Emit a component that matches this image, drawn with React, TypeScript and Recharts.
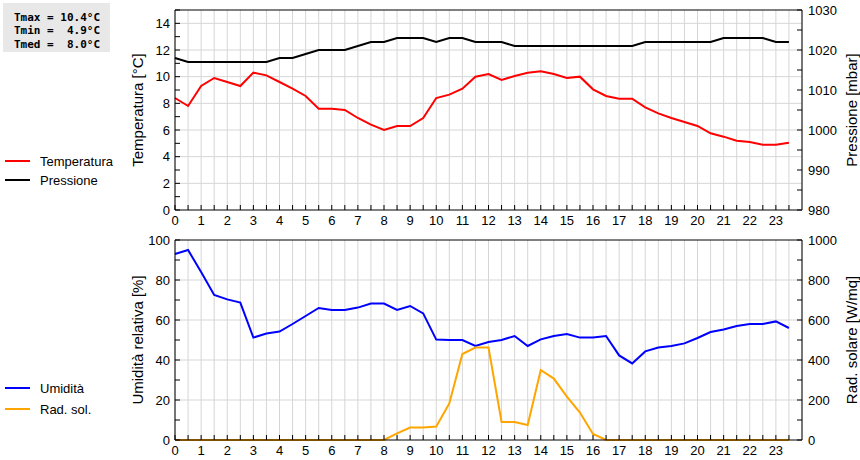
import React from 'react';
import { LineChart, Line, XAxis, YAxis, CartesianGrid, ReferenceLine } from 'recharts';

// ---- data (half-hourly readings) ----
const hours = [
  0, 0.5, 1, 1.5, 2, 2.5, 3, 3.5, 4, 4.5, 5, 5.5, 6, 6.5, 7, 7.5, 8, 8.5, 9, 9.5, 10, 10.5, 11, 11.5,
  12, 12.5, 13, 13.5, 14, 14.5, 15, 15.5, 16, 16.5, 17, 17.5, 18, 18.5, 19, 19.5, 20, 20.5, 21, 21.5, 22, 22.5, 23, 23.5,
];
const temperature = [
  8.4, 7.8, 9.3, 9.9, 9.6, 9.3, 10.3, 10.1, 9.6, 9.1, 8.55, 7.6, 7.6, 7.5, 6.9, 6.4, 6.0, 6.3, 6.3, 6.9, 8.4, 8.65, 9.1, 10.0,
  10.2, 9.75, 10.05, 10.3, 10.4, 10.2, 9.9, 10.0, 9.05, 8.55, 8.35, 8.35, 7.7, 7.25, 6.9, 6.6, 6.3, 5.75, 5.5, 5.2, 5.1, 4.9, 4.9, 5.05,
];
const pressure = [
  1018, 1017, 1017, 1017, 1017, 1017, 1017, 1017, 1018, 1018, 1019, 1020, 1020, 1020, 1021, 1022, 1022, 1023, 1023, 1023, 1022, 1023, 1023, 1022,
  1022, 1022, 1021, 1021, 1021, 1021, 1021, 1021, 1021, 1021, 1021, 1021, 1022, 1022, 1022, 1022, 1022, 1022, 1023, 1023, 1023, 1023, 1022, 1022,
];
const humidity = [
  93, 95, 84, 72.5, 70.3, 68.7, 51.2, 53.2, 54.2, 58, 62, 66, 65, 65, 66.2, 68.2, 68.2, 65, 67, 63.3, 50.2, 50, 50, 47,
  49, 50, 52, 47, 50.3, 52, 53, 51.2, 51.2, 52, 42.3, 38.3, 44.3, 46.2, 47, 48.3, 51, 54, 55.3, 57, 58, 58, 59.3, 56,
];
const radiation = [
  0, 0, 0, 0, 0, 0, 0, 0, 0, 0, 0, 0, 0, 0, 0, 0, 0, 33, 62, 62, 67, 183, 430, 462,
  462, 90, 90, 75, 350, 307, 217, 137, 30, 0, 0, 0, 0, 0, 0, 0, 0, 0, 0, 0, 0, 0, 0, 0,
];

// ---- axis ticks ----
const tempTicks = [0, 1, 2, 3, 4, 5, 6, 7, 8, 9, 10, 11, 12, 13, 14, 15];
const tempGrid = [2, 4, 6, 8, 10, 12, 14];
const pressTicks = [980, 985, 990, 995, 1000, 1005, 1010, 1015, 1020, 1025, 1030];
const humTicks = [0, 10, 20, 30, 40, 50, 60, 70, 80, 90, 100];
const humGrid = [20, 40, 60, 80];
const radTicks = [0, 100, 200, 300, 400, 500, 600, 700, 800, 900, 1000];

const stats = ['Tmax = 10.4°C', 'Tmin =  4.9°C', 'Tmed =  8.0°C'];

const rows = hours.map((h, i) => ({
  hour: h,
  temperature: temperature[i],
  pressure: pressure[i],
  humidity: humidity[i],
  radiation: radiation[i],
}));

const FONT = '"Liberation Sans", Arial, sans-serif';
const TICK_MARGIN = 5;
const TICK_LEN = 5;
const GRID = '#d6d6d6';

const makeLeftTick = (base: number, step: number) => (props: any) => {
  const { x, y, payload } = props;
  const v = payload.value;
  const axisX = x + TICK_MARGIN;
  const show = Math.abs((v - base) % step) < 1e-9;
  return (
    <g>
      <line x1={axisX} x2={axisX + TICK_LEN} y1={y} y2={y} stroke="#000" />
      {show && (
        <text x={x} y={y} dy="0.36em" textAnchor="end" fontSize={13} fontFamily={FONT} fill="#000">
          {v}
        </text>
      )}
    </g>
  );
};

const makeRightTick = (base: number, step: number) => (props: any) => {
  const { x, y, payload } = props;
  const v = payload.value;
  const axisX = x - TICK_MARGIN;
  const show = Math.abs((v - base) % step) < 1e-9;
  return (
    <g>
      <line x1={axisX} x2={axisX - TICK_LEN} y1={y} y2={y} stroke="#000" />
      {show && (
        <text x={x + 1} y={y} dy="0.36em" textAnchor="start" fontSize={13} fontFamily={FONT} fill="#000">
          {v}
        </text>
      )}
    </g>
  );
};

const BottomTick = (props: any) => {
  const { x, y, payload } = props;
  const v = payload.value;
  const axisY = y - TICK_MARGIN;
  return (
    <g>
      <line x1={x} x2={x} y1={axisY} y2={axisY - TICK_LEN} stroke="#000" />
      {Number.isInteger(v) && (
        <text x={x} y={axisY + 15} textAnchor="middle" fontSize={13} fontFamily={FONT} fill="#000">
          {v}
        </text>
      )}
    </g>
  );
};

const TempTick = makeLeftTick(0, 2);
const PressTick = makeRightTick(980, 10);
const HumTick = makeLeftTick(0, 20);
const RadTick = makeRightTick(0, 200);

const CHART_W = 860;
const CHART_H = 230;
const LEFT_W = 175;
const RIGHT_W = 58;
const X_H = 20;
const margin = { top: 10, right: 0, bottom: 0, left: 0 };

const AxisTitle = ({ text, cx, cy }: { text: string; cx: number; cy: number }) => (
  <div
    style={{
      position: 'absolute',
      left: cx,
      top: cy,
      transform: 'translate(-50%, -50%) rotate(-90deg)',
      whiteSpace: 'nowrap',
      fontFamily: FONT,
      fontSize: 15,
      color: '#000',
      lineHeight: 1,
    }}
  >
    {text}
  </div>
);

const LegendItem = ({ label, color, y }: { label: string; color: string; y: number }) => (
  <div style={{ position: 'absolute', left: 5, top: y - 8, height: 16, display: 'flex', alignItems: 'center' }}>
    <div style={{ width: 25, height: 2, background: color }} />
    <span style={{ marginLeft: 10, fontFamily: FONT, fontSize: 13, color: '#000', whiteSpace: 'nowrap' }}>{label}</span>
  </div>
);

const xAxisEl = (
  <XAxis
    dataKey="hour"
    type="number"
    domain={[0, 24]}
    ticks={hours}
    interval={0}
    height={X_H}
    tickSize={0}
    tickMargin={TICK_MARGIN}
    tickLine={false}
    axisLine={{ stroke: '#000' }}
    tick={BottomTick}
  />
);

export default function App() {
  return (
    <div style={{ position: 'absolute', left: 0, top: 0, width: CHART_W, height: 460, background: '#fff' }}>
      <div style={{ position: 'absolute', left: 0, top: 0 }}>
        <LineChart width={CHART_W} height={CHART_H} data={rows} margin={margin}>
          <CartesianGrid yAxisId="temp" stroke={GRID} horizontalValues={tempGrid} />
          {xAxisEl}
          <YAxis
            yAxisId="temp"
            orientation="left"
            domain={[0, 15]}
            ticks={tempTicks}
            interval={0}
            width={LEFT_W}
            tickSize={0}
            tickMargin={TICK_MARGIN}
            tickLine={false}
            axisLine={{ stroke: '#000' }}
            tick={TempTick}
          />
          <YAxis
            yAxisId="press"
            orientation="right"
            domain={[980, 1030]}
            ticks={pressTicks}
            interval={0}
            width={RIGHT_W}
            tickSize={0}
            tickMargin={TICK_MARGIN}
            tickLine={false}
            axisLine={{ stroke: '#000' }}
            tick={PressTick}
          />
          <ReferenceLine yAxisId="temp" y={15} stroke="#000" />
          <Line yAxisId="temp" dataKey="temperature" stroke="#ff0000" strokeWidth={2} dot={false} isAnimationActive={false} />
          <Line yAxisId="press" dataKey="pressure" stroke="#000000" strokeWidth={2} dot={false} isAnimationActive={false} />
        </LineChart>
      </div>
      <div style={{ position: 'absolute', left: 0, top: CHART_H }}>
        <LineChart width={CHART_W} height={CHART_H} data={rows} margin={margin}>
          <CartesianGrid yAxisId="hum" stroke={GRID} horizontalValues={humGrid} />
          {xAxisEl}
          <YAxis
            yAxisId="hum"
            orientation="left"
            domain={[0, 100]}
            ticks={humTicks}
            interval={0}
            width={LEFT_W}
            tickSize={0}
            tickMargin={TICK_MARGIN}
            tickLine={false}
            axisLine={{ stroke: '#000' }}
            tick={HumTick}
          />
          <YAxis
            yAxisId="rad"
            orientation="right"
            domain={[0, 1000]}
            ticks={radTicks}
            interval={0}
            width={RIGHT_W}
            tickSize={0}
            tickMargin={TICK_MARGIN}
            tickLine={false}
            axisLine={{ stroke: '#000' }}
            tick={RadTick}
          />
          <ReferenceLine yAxisId="hum" y={100} stroke="#000" />
          <Line yAxisId="hum" dataKey="humidity" stroke="#0000ff" strokeWidth={2} dot={false} isAnimationActive={false} />
          <Line yAxisId="rad" dataKey="radiation" stroke="#ffa500" strokeWidth={2} dot={false} isAnimationActive={false} />
        </LineChart>
      </div>

      <AxisTitle text="Temperatura [°C]" cx={137} cy={110} />
      <AxisTitle text="Pressione [mbar]" cx={851} cy={110} />
      <AxisTitle text="Umidità relativa [%]" cx={137} cy={340} />
      <AxisTitle text="Rad. solare [W/mq]" cx={851} cy={340} />

      <LegendItem label="Temperatura" color="#ff0000" y={161} />
      <LegendItem label="Pressione" color="#000000" y={180} />
      <LegendItem label="Umidità" color="#0000ff" y={388} />
      <LegendItem label="Rad. sol." color="#ffa500" y={409} />

      <div
        style={{
          position: 'absolute',
          left: 3,
          top: 3,
          width: 107,
          height: 49,
          background: '#e8e8e8',
          boxSizing: 'border-box',
          paddingLeft: 11,
          paddingTop: 8,
          fontFamily: '"DejaVu Sans Mono", monospace',
          fontWeight: 'bold',
          fontSize: 11,
          lineHeight: '13.3px',
          color: '#000',
          whiteSpace: 'pre',
        }}
      >
        {stats.map((s) => (
          <div key={s}>{s}</div>
        ))}
      </div>
    </div>
  );
}
